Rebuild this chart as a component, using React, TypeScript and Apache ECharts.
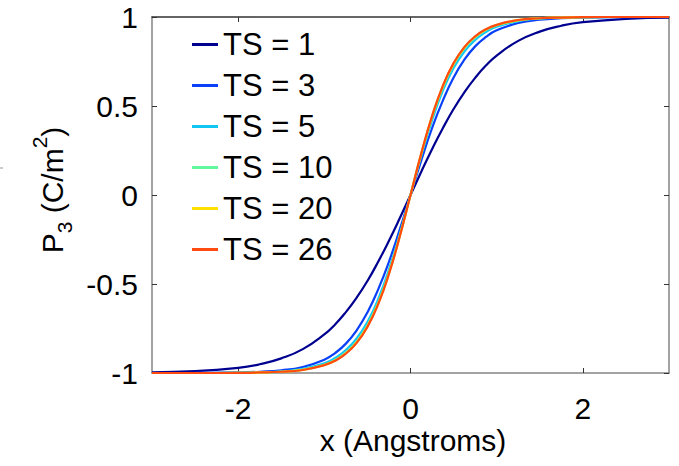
import React, { useEffect, useRef } from "react";
import * as echarts from "echarts";

// position across the domain wall, in Angstroms
const X_VALUES = [
  -3, -2.5, -2, -1.75, -1.5, -1.25, -1, -0.875, -0.75, -0.625, -0.5, -0.375, -0.25, -0.125, 0,
  0.125, 0.25, 0.375, 0.5, 0.625, 0.75, 0.875, 1, 1.25, 1.5, 1.75, 2, 2.5, 3,
];

// polarisation P3 (C/m^2) for each time step
const P3_TS1 = [
  -0.996, -0.99, -0.971, -0.951, -0.918, -0.866, -0.783, -0.727, -0.658, -0.577, -0.483, -0.375, -0.257, -0.131, 0,
  0.131, 0.257, 0.375, 0.483, 0.577, 0.658, 0.727, 0.783, 0.866, 0.918, 0.951, 0.971, 0.99, 0.996,
];
const P3_TS3 = [
  -1.0, -0.999, -0.997, -0.993, -0.985, -0.966, -0.925, -0.888, -0.835, -0.76, -0.66, -0.53, -0.375, -0.195, 0,
  0.195, 0.375, 0.53, 0.66, 0.76, 0.835, 0.888, 0.925, 0.966, 0.985, 0.993, 0.997, 0.999, 1.0,
];
const P3_TS5 = [
  -1.0, -1.0, -0.998, -0.996, -0.991, -0.977, -0.946, -0.916, -0.871, -0.806, -0.713, -0.585, -0.419, -0.22, 0,
  0.22, 0.419, 0.585, 0.713, 0.806, 0.871, 0.916, 0.946, 0.977, 0.991, 0.996, 0.998, 1.0, 1.0,
];
const P3_TS10 = [
  -1.0, -1.0, -0.999, -0.997, -0.993, -0.981, -0.953, -0.927, -0.886, -0.824, -0.733, -0.605, -0.436, -0.23, 0,
  0.23, 0.436, 0.605, 0.733, 0.824, 0.886, 0.927, 0.953, 0.981, 0.993, 0.997, 0.999, 1.0, 1.0,
];
const P3_TS20 = [
  -1.0, -1.0, -0.999, -0.997, -0.993, -0.982, -0.955, -0.93, -0.889, -0.829, -0.738, -0.61, -0.441, -0.232, 0,
  0.232, 0.441, 0.61, 0.738, 0.829, 0.889, 0.93, 0.955, 0.982, 0.993, 0.997, 0.999, 1.0, 1.0,
];
const P3_TS26 = [
  -1.0, -1.0, -0.999, -0.997, -0.993, -0.983, -0.956, -0.931, -0.891, -0.831, -0.741, -0.613, -0.443, -0.234, 0,
  0.234, 0.443, 0.613, 0.741, 0.831, 0.891, 0.931, 0.956, 0.983, 0.993, 0.997, 0.999, 1.0, 1.0,
];

const SERIES_NAMES = ["TS = 1", "TS = 3", "TS = 5", "TS = 10", "TS = 20", "TS = 26"];
const SERIES_VALUES = [P3_TS1, P3_TS3, P3_TS5, P3_TS10, P3_TS20, P3_TS26];
const SERIES_COLORS = ["#000090", "#0A40F8", "#12C6F2", "#62F89E", "#FFE000", "#FF4A12"];

const X_TICKS = [-2, 0, 2];
const Y_TICKS = [-1, -0.5, 0, 0.5, 1];

const FONT = "'Liberation Sans', Arial, Helvetica, sans-serif";

export default function App() {
  const ref = useRef<HTMLDivElement>(null);

  useEffect(() => {
    if (!ref.current) return;
    const chart = echarts.init(ref.current, undefined, { renderer: "svg" });

    const frameGray = "#858585";
    const tickStyle = { inside: true, length: 5, lineStyle: { color: "#333", width: 1 } };

    chart.setOption({
      animation: false,
      backgroundColor: "#ffffff",
      textStyle: { fontFamily: FONT },
      grid: { left: 152, top: 17, right: 10, bottom: 93, containLabel: false },
      legend: {
        orient: "vertical",
        left: 192,
        top: 24,
        padding: 0,
        itemGap: 0,
        itemWidth: 26,
        itemHeight: 3,
        icon: "rect",
        textStyle: { fontSize: 31, color: "#000", fontFamily: FONT, lineHeight: 41 },
        data: SERIES_NAMES,
      },
      xAxis: [
        {
          type: "value",
          min: -3,
          max: 3,
          position: "bottom",
          axisLine: { show: true, onZero: false, lineStyle: { color: frameGray, width: 1.5 } },
          axisTick: { ...tickStyle, customValues: X_TICKS },
          axisLabel: {
            customValues: X_TICKS,
            fontSize: 30,
            color: "#000",
            margin: 20,
            fontFamily: FONT,
          },
          splitLine: { show: false },
        },
        {
          type: "value",
          min: -3,
          max: 3,
          position: "top",
          axisLine: { show: true, onZero: false, lineStyle: { color: "#333", width: 1.5 } },
          axisTick: { ...tickStyle, customValues: X_TICKS },
          axisLabel: { show: false },
          splitLine: { show: false },
        },
      ],
      yAxis: [
        {
          type: "value",
          min: -1,
          max: 1,
          interval: 0.5,
          position: "left",
          axisLine: { show: true, onZero: false, lineStyle: { color: frameGray, width: 1.5 } },
          axisTick: { ...tickStyle, customValues: Y_TICKS },
          axisLabel: {
            customValues: Y_TICKS,
            fontSize: 30,
            color: "#000",
            margin: 14,
            fontFamily: FONT,
          },
          splitLine: { show: false },
        },
        {
          type: "value",
          min: -1,
          max: 1,
          interval: 0.5,
          position: "right",
          axisLine: { show: true, onZero: false, lineStyle: { color: frameGray, width: 1.5 } },
          axisTick: { ...tickStyle, customValues: Y_TICKS },
          axisLabel: { show: false },
          splitLine: { show: false },
        },
      ],
      series: SERIES_NAMES.map((name, i) => ({
        name,
        type: "line",
        xAxisIndex: 0,
        yAxisIndex: 0,
        data: X_VALUES.map((x, j) => [x, SERIES_VALUES[i][j]]),
        showSymbol: false,
        symbol: "none",
        smooth: 0.5,
        color: SERIES_COLORS[i],
        lineStyle: { width: 2.2, color: SERIES_COLORS[i] },
        z: 2 + i,
      })),
      graphic: [
        {
          type: "text",
          x: 413,
          y: 440,
          style: {
            text: "x (Angstroms)",
            fontSize: 30,
            fontFamily: FONT,
            fill: "#000",
            align: "center",
            verticalAlign: "middle",
          },
        },
        {
          type: "text",
          x: 52,
          y: 190,
          rotation: Math.PI / 2,
          style: {
            text: "{a|P}{s|3}{a| (C/m}{u|2}{a|)}",
            fontSize: 30,
            fontFamily: FONT,
            fill: "#000",
            align: "center",
            verticalAlign: "middle",
            rich: {
              a: { fontSize: 30, lineHeight: 46, verticalAlign: "middle", fontFamily: FONT, fill: "#000" },
              s: { fontSize: 21, lineHeight: 21, verticalAlign: "bottom", fontFamily: FONT, fill: "#000" },
              u: { fontSize: 21, lineHeight: 21, verticalAlign: "top", fontFamily: FONT, fill: "#000" },
            },
          },
        },
        {
          type: "line",
          shape: { x1: 0, y1: 168, x2: 3, y2: 168 },
          style: { stroke: "#999", lineWidth: 1 },
        },
      ],
    });

    return () => chart.dispose();
  }, []);

  return (
    <div
      ref={ref}
      style={{ position: "fixed", left: 0, top: 0, width: 679, height: 466, background: "#fff" }}
    />
  );
}
